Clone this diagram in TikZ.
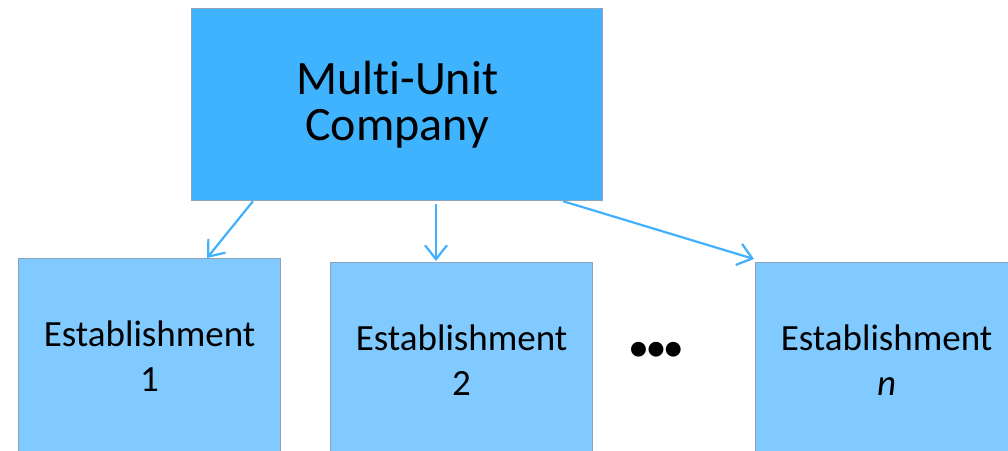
\documentclass[tikz,border=0pt]{standalone}
\usepackage{fontspec}
\setmainfont{Carlito}[Ligatures={NoCommon}]
\usetikzlibrary{arrows.meta,calc}
\definecolor{topfill}{RGB}{64,179,255}
\definecolor{subfill}{RGB}{128,202,255}
\definecolor{edgegray}{RGB}{140,162,182}
\definecolor{arrowblue}{RGB}{64,176,255}
\tikzset{
  topbox/.style={draw=edgegray, line width=1.2pt, fill=topfill, inner sep=0pt,
    minimum width=411pt, minimum height=192pt, align=center,
    font=\fontsize{48}{46}\selectfont},
  estbox/.style={draw=edgegray, line width=1.2pt, fill=subfill, inner sep=0pt,
    minimum width=262pt, minimum height=196pt, align=center,
    font=\fontsize{37}{45}\selectfont},
  link/.style={draw=arrowblue, line width=2.2pt,
    -{Straight Barb[length=14pt,width=22pt,line width=2.2pt]}}
}
\begin{document}
\begin{tikzpicture}[x=1pt,y=-1pt]
\useasboundingbox (0,0) rectangle (1008,450);
\clip (0,0) rectangle (1008,450);
\node[topbox, anchor=north west] (top) at (191,8) {Multi-Unit\\Company};
\node[estbox, anchor=north west] (e1) at (18,258) {Establishment\\1};
\node[estbox, anchor=north west] (e2) at (330,262) {Establishment\\2};
\node[estbox, anchor=north west] (e3) at (755,262) {Establishment\\\textit{n}};
\node[font=\fontsize{35}{35}\selectfont\bfseries] (dots) at (656,351) {•••};
\draw[link] ($(top.south west)+(62,0)$) -- ($(e1.north west)+(189,0)$);
\draw[link] ($(top.south west)+(245,3)$) -- ($(e2.north west)+(106,-1)$);
\draw[link] ($(top.south west)+(372,0)$) -- ($(e3.north west)+(-1,-3)$);
\end{tikzpicture}
\end{document}
